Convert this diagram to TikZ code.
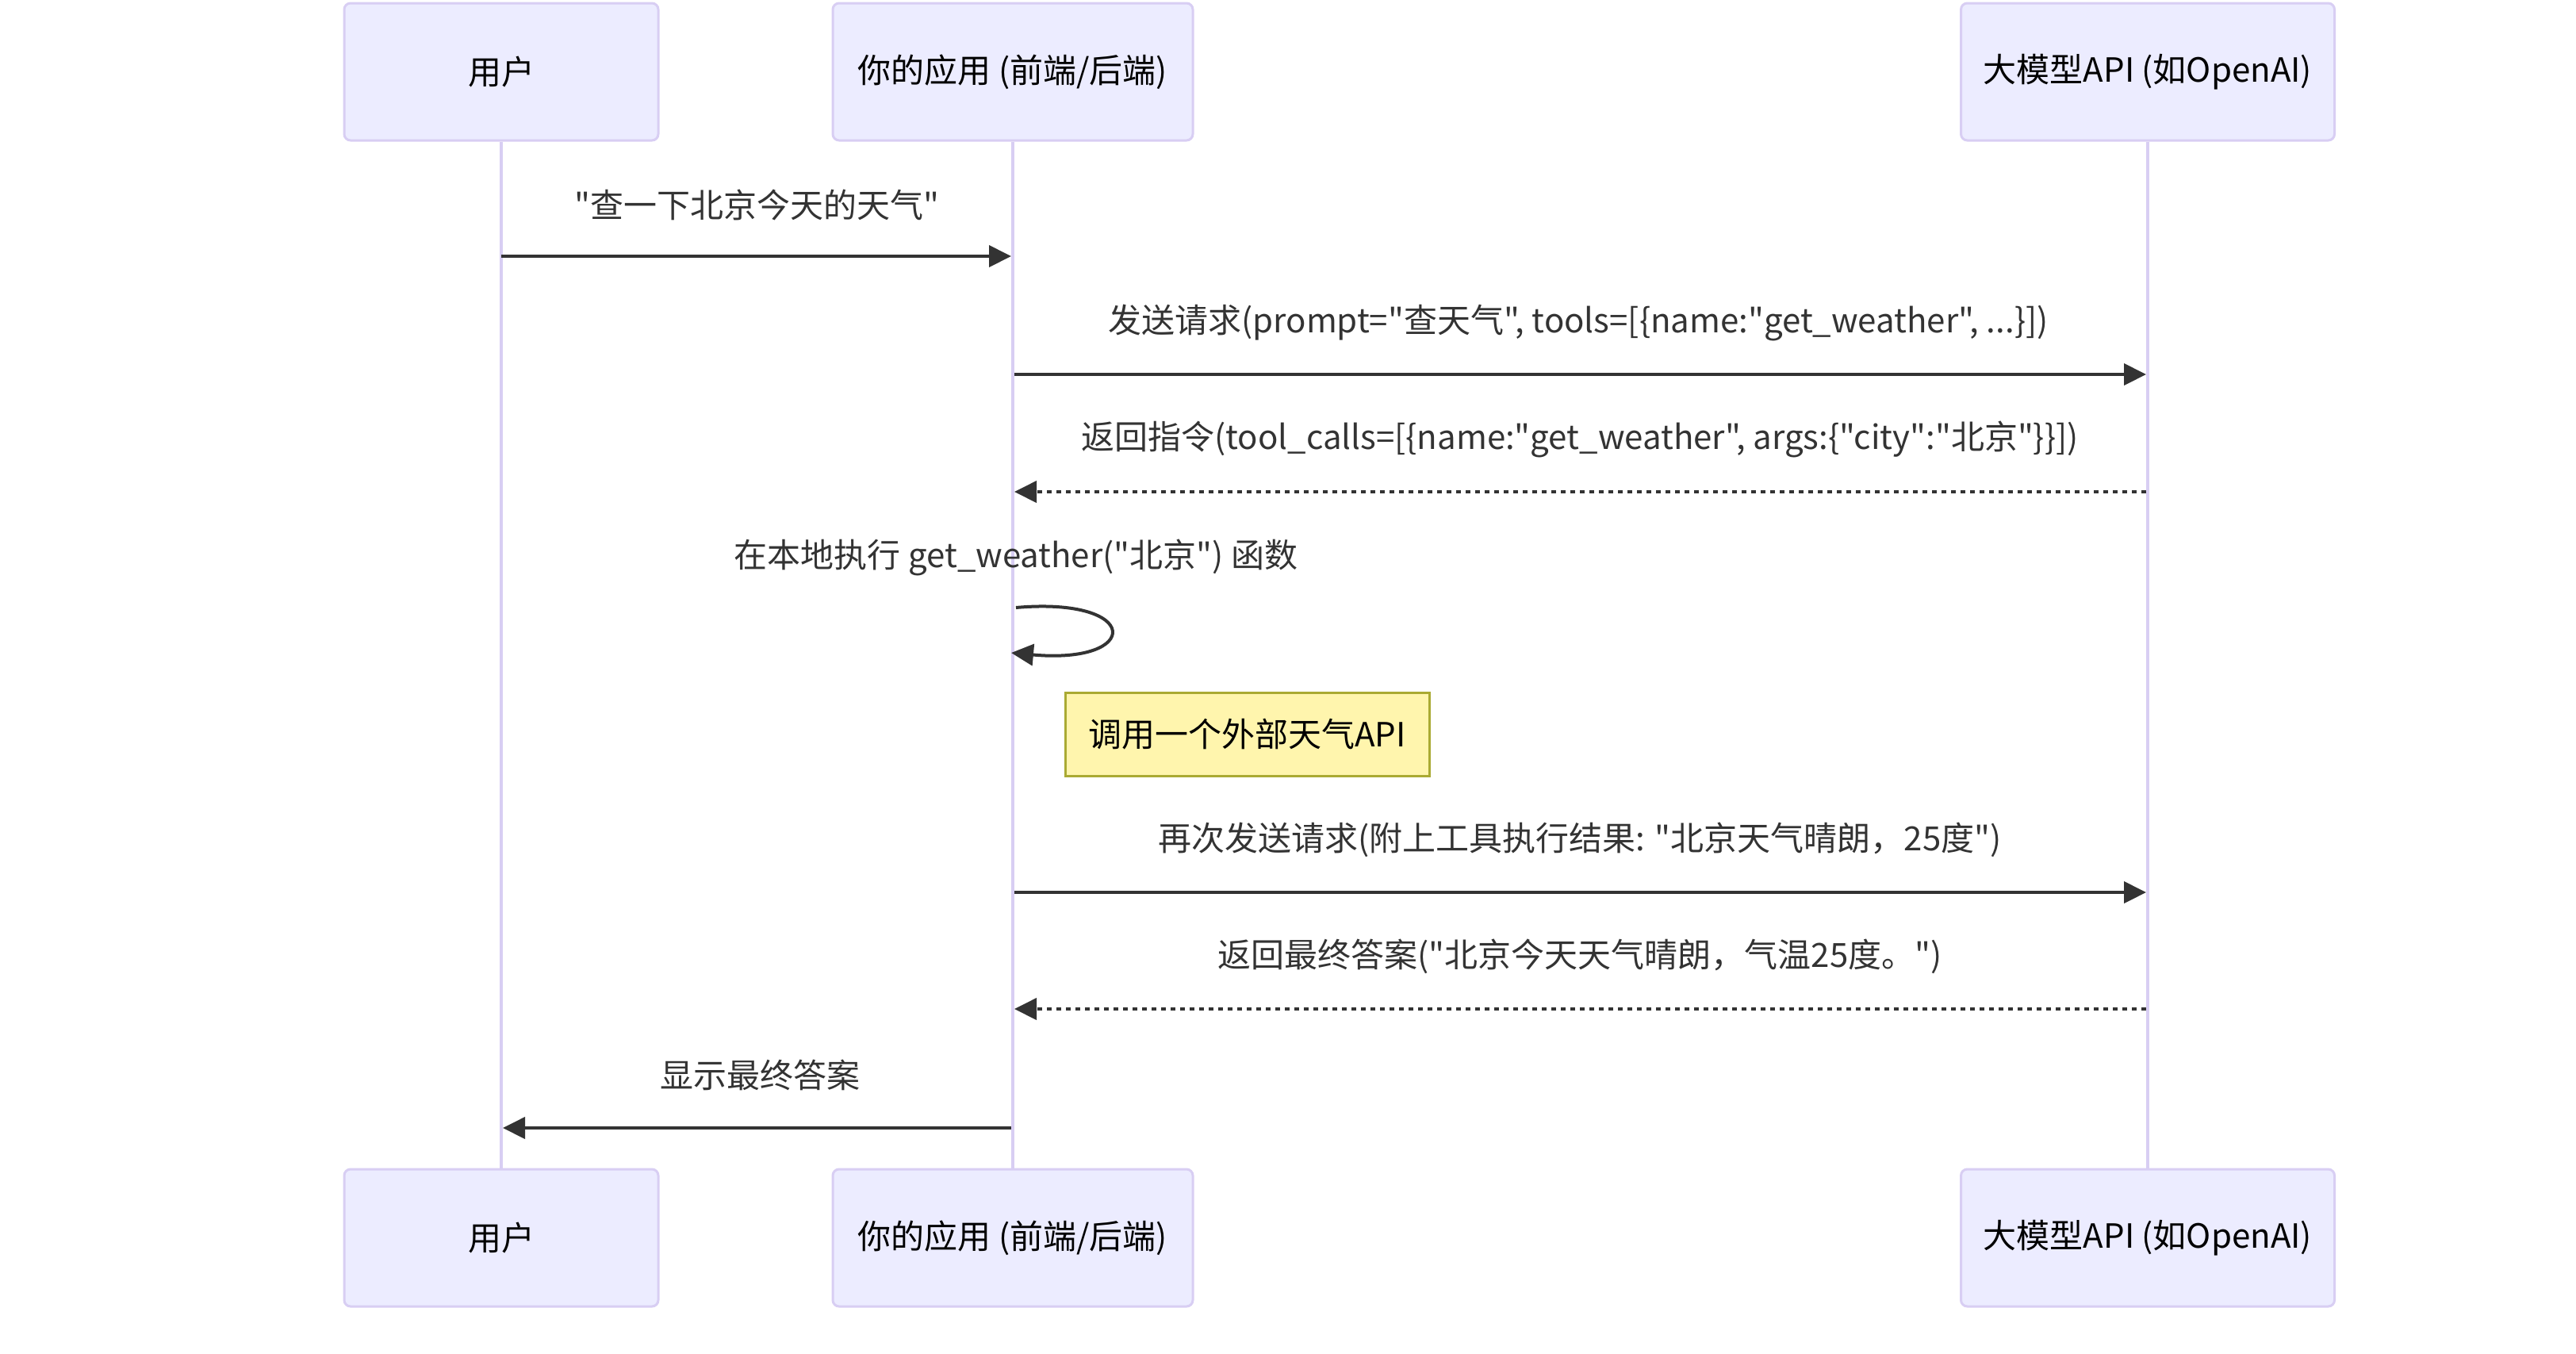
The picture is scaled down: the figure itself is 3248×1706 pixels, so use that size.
\documentclass[tikz,border=0pt]{standalone}
\usepackage{fontspec}
\setmainfont{Noto Sans CJK SC}[Ligatures=TeXOff]
\usetikzlibrary{arrows.meta}

\definecolor{actorfill}{HTML}{ECECFF}
\definecolor{actorline}{RGB}{216,206,243}
\definecolor{msgline}{HTML}{333333}
\definecolor{msgtext}{HTML}{333333}
\definecolor{notefill}{HTML}{FFF5AD}
\definecolor{noteline}{HTML}{AAAA33}

\tikzset{
  actor/.style={draw=actorline, fill=actorfill, line width=3pt, rounded corners=8pt,
    minimum height=173pt, inner sep=0pt, font=\fontsize{42}{46}\selectfont, text=black},
  lifeline/.style={draw=actorline, line width=4pt},
  msg/.style={draw=msgline, line width=4pt, -{Triangle[length=28pt,width=27pt]}},
  reply/.style={msg, dash pattern=on 6pt off 6pt},
  msglabel/.style={font=\fontsize{42}{46}\selectfont, text=msgtext, inner sep=0pt},
  notebox/.style={draw=noteline, fill=notefill, line width=3pt, minimum width=459pt,
    minimum height=105pt, inner sep=0pt, font=\fontsize{42}{46}\selectfont, text=black}
}

\begin{document}
\begin{tikzpicture}[x=1pt, y=-1pt]
  \useasboundingbox (0,0) rectangle (3248,1706);

  % participants, top and bottom
  \node[actor, minimum width=396pt] (userT) at (632,90.5) {用户};
  \node[actor, minimum width=454pt] (appT) at (1277,90.5) {你的应用 (前端/后端)};
  \node[actor, minimum width=471pt] (apiT) at (2708,90.5) {大模型API (如OpenAI)};
  \node[actor, minimum width=396pt] (userB) at (632,1560.5) {用户};
  \node[actor, minimum width=454pt] (appB) at (1277,1560.5) {你的应用 (前端/后端)};
  \node[actor, minimum width=471pt] (apiB) at (2708,1560.5) {大模型API (如OpenAI)};

  % lifelines
  \draw[lifeline] (userT.south) -- (userB.north);
  \draw[lifeline] (appT.south) -- (appB.north);
  \draw[lifeline] (apiT.south) -- (apiB.north);

  % user -> app
  \node[msglabel] (m1) at (954,258) {"查一下北京今天的天气"};
  \draw[msg] (userT.south |- 0,323) -- ([xshift=-2pt]appT.south |- 0,323);

  % app -> api
  \node[msglabel] (m2) at (1990,407) {发送请求(prompt="查天气", tools=[\{name:"get\_weather", ...\}])};
  \draw[msg] ([xshift=2pt]appT.south |- 0,472) -- ([xshift=-2pt]apiT.south |- 0,472);

  % api -> app (reply)
  \node[msglabel] (m3) at (1992,554) {返回指令(tool\_calls=[\{name:"get\_weather", args:\{"city":"北京"\}\}])};
  \draw[reply] ([xshift=-2pt]apiT.south |- 0,620) -- ([xshift=2pt]appT.south |- 0,620);

  % self call on the app
  \node[msglabel] (m4) at (1281,703) {在本地执行 get\_weather("北京") 函数};
  \coordinate (selfA) at ([xshift=4pt]appT.south |- 0,766);
  \coordinate (selfB) at ([xshift=-2pt]appT.south |- 0,823);
  \draw[msg] (selfA) .. controls (1440,752) and (1440,838) .. (selfB);

  % note
  \node[notebox] (note) at (1572.5,925.5) {调用一个外部天气API};

  % app -> api, second request
  \node[msglabel] (m5) at (1992,1059) {再次发送请求(附上工具执行结果: "北京天气晴朗，25度")};
  \draw[msg] ([xshift=2pt]appT.south |- 0,1125) -- ([xshift=-2pt]apiT.south |- 0,1125);

  % api -> app, final answer
  \node[msglabel] (m6) at (1992,1206) {返回最终答案("北京今天天气晴朗，气温25度。")};
  \draw[reply] ([xshift=-2pt]apiT.south |- 0,1272) -- ([xshift=2pt]appT.south |- 0,1272);

  % app -> user
  \node[msglabel] (m7) at (958,1355) {显示最终答案};
  \draw[msg] ([xshift=-2pt]appT.south |- 0,1422) -- ([xshift=2pt]userT.south |- 0,1422);
\end{tikzpicture}
\end{document}
